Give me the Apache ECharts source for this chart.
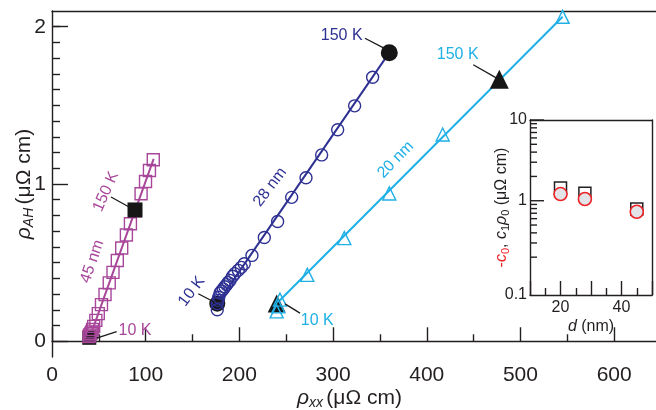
<!DOCTYPE html>
<html><head><meta charset="utf-8">
<script src="https://cdn.jsdelivr.net/npm/echarts@6/dist/echarts.min.js"></script>
<style>html,body{margin:0;padding:0;background:#fff}#c{width:656px;height:410px}</style>
</head><body><div id="c"></div>
<script>
// ---------- data (rho_xx in µΩ cm, rho_AH in µΩ cm) ----------
// 45 nm film (magenta open squares)
const f45X = [39.5, 40.2, 41.5, 42.4, 43.3, 44.5, 46.8, 49.4, 52.8, 56.6, 61.1, 65.1, 69.7, 74.4, 79.4, 83.7, 88.6, 95.1, 99.8, 104.0, 108.1];
const f45Y = [0.030, 0.040, 0.050, 0.060, 0.075, 0.095, 0.133, 0.176, 0.233, 0.297, 0.371, 0.438, 0.514, 0.593, 0.676, 0.747, 0.830, 0.938, 1.016, 1.086, 1.154];
// 28 nm film (navy open circles)
const f28X = [176.4, 176.4, 177.0, 178.0, 179.3, 181.0, 182.8, 184.5, 186.4, 188.0, 190.0, 192.8, 195.0, 198.8, 202.0, 205.2, 213.4, 226.6, 240.8, 255.8, 271.1, 287.8, 304.9, 323.0, 342.2];
const f28Y = [0.200, 0.240, 0.260, 0.280, 0.307, 0.320, 0.333, 0.347, 0.360, 0.373, 0.387, 0.413, 0.430, 0.451, 0.470, 0.493, 0.546, 0.660, 0.762, 0.915, 1.040, 1.185, 1.345, 1.497, 1.679];
// 20 nm film (cyan open triangles)
const f20X = [239.8, 241.5, 243.3, 272.5, 312.0, 360.0, 417.0, 477.4, 545.0];
const f20Y = [0.190, 0.222, 0.265, 0.422, 0.656, 0.940, 1.315, 1.666, 2.063];
// linear fits (end points)
const fit45X = [40.6, 108.5], fit45Y = [0.030, 1.160];
const fit28X = [176.4, 360.0], fit28Y = [0.239, 1.835];
const fit20X = [239.8, 545.0], fit20Y = [0.240, 2.063];
// highlighted 10 K / 150 K points
const k10X = [39.8, 176.4, 239.8], k10Y = [0.022, 0.239, 0.240];
const k150X = [88.6, 360.0, 477.4], k150Y = [0.835, 1.835, 1.666];
// inset: thickness d (nm) vs coefficients
const insetD = [20, 28, 45];
const c1rho0 = [1.44, 1.24, 0.79];
const minusC0 = [1.21, 1.05, 0.73];
// tick values
const xMajor = [0, 100, 200, 300, 400, 500, 600];
const xMinor = [50, 150, 250, 350, 450, 550];
const yMajor = [0, 1, 2];
const yMinor = [0.1,0.2,0.3,0.4,0.5,0.6,0.7,0.8,0.9,1.1,1.2,1.3,1.4,1.5,1.6,1.7,1.8,1.9,2.0];
const insetYMajor = [1, 10];
const insetYMinor = [0.2,0.3,0.4,0.5,0.6,0.7,0.8,0.9,2,3,4,5,6,7,8,9];

// ---------- style ----------
const FONT = '"Liberation Sans", Arial, Helvetica, sans-serif';
const DARK = '#231f20';
const MAG = '#a8479a', NAVY = '#2e3192', CYAN = '#1fb0e6', RED = '#ec2227';
const pairs = (xs, ys) => xs.map((x, i) => [x, ys[i]]);

const chart = echarts.init(document.getElementById('c'), null, {renderer: 'canvas', width: 656, height: 410});

const axisLine = {show: true, lineStyle: {color: DARK, width: 1.4}};
const noSplit = {show: false};

const subRich = {
  i: {fontStyle: 'italic', fontSize: 21, color: DARK, fontFamily: FONT},
  sub: {fontStyle: 'italic', fontSize: 14, color: DARK, fontFamily: FONT, padding: [9, 0, 0, 0]},
  n: {fontSize: 21, color: DARK, fontFamily: FONT}
};
const insetRich = {
  r: {fontSize: 16, color: RED, fontFamily: FONT},
  ri: {fontSize: 16, fontStyle: 'italic', color: RED, fontFamily: FONT},
  rs: {fontSize: 11, color: RED, fontFamily: FONT, padding: [7, 0, 0, 0]},
  k: {fontSize: 16, color: DARK, fontFamily: FONT},
  i: {fontSize: 16, fontStyle: 'italic', color: DARK, fontFamily: FONT},
  sub: {fontSize: 11, color: DARK, fontFamily: FONT, padding: [7, 0, 0, 0]}
};

const open = (color) => ({color: 'rgba(0,0,0,0)', borderColor: color, borderWidth: 1.4, opacity: 1});

const option = {
  animation: false,
  textStyle: {fontFamily: FONT},
  grid: [
    {left: 52, top: 11, right: -5, bottom: 53, outerBoundsMode: 'none', containLabel: false},
    {left: 530, top: 120, right: 4, bottom: 115, outerBoundsMode: 'none', containLabel: false}
  ],
  xAxis: [
    {gridIndex: 0, type: 'value', min: 0, max: 650, position: 'bottom', axisLine,
     splitLine: noSplit,
     axisTick: {inside: true, length: 14, customValues: xMajor, lineStyle: {color: DARK, width: 1.4}},
     axisLabel: {customValues: xMajor, fontSize: 21, color: DARK, margin: 8},
     name: '{i|ρ}{sub|xx} {n|(μΩ cm)}', nameLocation: 'middle', nameGap: 30, nameMoveOverlap: false,
     nameTextStyle: {rich: subRich, padding: [0, 14, 0, 0]}},
    {gridIndex: 0, type: 'value', min: 0, max: 650, position: 'bottom',
     axisLine: {show: false}, splitLine: noSplit,
     axisTick: {inside: true, length: 7, customValues: xMinor, lineStyle: {color: DARK, width: 1.4}},
     axisLabel: {show: false}},
    {gridIndex: 0, type: 'value', min: 0, max: 650, position: 'top', axisLine,
     axisTick: {show: false}, axisLabel: {show: false}, splitLine: noSplit},
    {gridIndex: 1, type: 'value', min: 10, max: 50, interval: 10, position: 'bottom', axisLine,
     splitLine: noSplit,
     axisTick: {inside: true, length: 14, lineStyle: {color: DARK, width: 1.4}},
     minorTick: {show: true, splitNumber: 2, length: 7, lineStyle: {color: DARK, width: 1.4}},
     axisLabel: {fontSize: 16, color: DARK, margin: 5, formatter: v => (v === 20 || v === 40) ? String(v) : ''},
     name: '{i|d}{k| (nm)}', nameLocation: 'middle', nameGap: 24, nameMoveOverlap: false,
     nameTextStyle: {rich: insetRich}},
    {gridIndex: 1, type: 'value', min: 10, max: 50, position: 'top', axisLine,
     axisTick: {show: false}, axisLabel: {show: false}, splitLine: noSplit}
  ],
  yAxis: [
    {gridIndex: 0, type: 'value', min: -0.1, max: 2.1, position: 'left', axisLine,
     splitLine: noSplit,
     axisTick: {inside: true, length: 16, customValues: yMajor, lineStyle: {color: DARK, width: 1.4}},
     axisLabel: {customValues: yMajor, fontSize: 21, color: DARK, margin: 6},
     name: '{i|ρ}{sub|AH} {n|(μΩ cm)}', nameLocation: 'middle', nameRotate: 90, nameGap: 16, nameMoveOverlap: false,
     nameTextStyle: {rich: subRich}},
    {gridIndex: 0, type: 'value', min: -0.1, max: 2.1, position: 'left',
     axisLine: {show: false}, splitLine: noSplit,
     axisTick: {inside: true, length: 8, customValues: yMinor, lineStyle: {color: DARK, width: 1.4}},
     axisLabel: {show: false}},
    {gridIndex: 1, type: 'log', min: 0.068, max: 10, position: 'left', axisLine,
     splitLine: noSplit, axisTick: {show: false},
     axisLabel: {fontSize: 16, color: DARK, margin: 3, showMinLabel: true,
       formatter: v => v < 0.09 ? '0.1' : (Math.abs(v - 0.1) < 1e-6 ? '' : (Math.abs(v - 1) < 1e-6 ? '1' : (Math.abs(v - 10) < 1e-6 ? '10' : '')))},
     name: '{r|-}{ri|c}{rs|0}{k|, }{i|c}{sub|1}{i|ρ}{sub|0}{k| (μΩ cm)}', nameLocation: 'middle', nameRotate: 90, nameGap: 19,
     nameMoveOverlap: false, nameTextStyle: {rich: insetRich}},
    {gridIndex: 1, type: 'log', min: 0.068, max: 10, position: 'right', axisLine,
     axisTick: {show: false}, axisLabel: {show: false}, splitLine: noSplit}
  ],
  series: [
    {type: 'line', xAxisIndex: 0, yAxisIndex: 0, data: pairs(fit45X, fit45Y), showSymbol: false, symbol: 'none',
     lineStyle: {color: MAG, width: 2}, z: 2, silent: true},
    {type: 'line', xAxisIndex: 0, yAxisIndex: 0, data: pairs(fit28X, fit28Y), showSymbol: false, symbol: 'none',
     lineStyle: {color: NAVY, width: 2}, z: 2, silent: true},
    {type: 'line', xAxisIndex: 0, yAxisIndex: 0, data: pairs(fit20X, fit20Y), showSymbol: false, symbol: 'none',
     lineStyle: {color: CYAN, width: 2}, z: 2, silent: true},
    // black 10 K markers (beneath open markers)
    {type: 'scatter', xAxisIndex: 0, yAxisIndex: 0, z: 3, silent: true,
     data: pairs(k10X, k10Y).map((p, i) => ({value: p, symbol: ['rect', 'circle', 'triangle'][i], symbolSize: [14, 16, 18][i]})),
     itemStyle: {color: '#161616', opacity: 1}},
    {type: 'scatter', xAxisIndex: 0, yAxisIndex: 0, z: 4, silent: true, symbol: 'rect', symbolSize: 12,
     data: pairs(f45X, f45Y), itemStyle: open(MAG)},
    {type: 'scatter', xAxisIndex: 0, yAxisIndex: 0, z: 4, silent: true, symbol: 'circle', symbolSize: 12,
     data: pairs(f28X, f28Y), itemStyle: open(NAVY)},
    {type: 'scatter', xAxisIndex: 0, yAxisIndex: 0, z: 4, silent: true, symbol: 'triangle', symbolSize: 13,
     data: pairs(f20X, f20Y), itemStyle: open(CYAN)},
    // black 150 K markers (on top)
    {type: 'scatter', xAxisIndex: 0, yAxisIndex: 0, z: 5, silent: true,
     data: pairs(k150X, k150Y).map((p, i) => ({value: p, symbol: ['rect', 'circle', 'triangle'][i], symbolSize: [15, 17, 19][i]})),
     itemStyle: {color: '#161616', opacity: 1}},
    // inset
    {type: 'scatter', xAxisIndex: 3, yAxisIndex: 2, z: 6, silent: true, symbol: 'rect', symbolSize: 12,
     data: pairs(insetD, c1rho0), itemStyle: {color: '#ffffff', borderColor: DARK, borderWidth: 1.5, opacity: 1}},
    {type: 'scatter', xAxisIndex: 3, yAxisIndex: 2, z: 7, silent: true, symbol: 'circle', symbolSize: 13,
     data: pairs(insetD, minusC0), itemStyle: {color: '#e3e4e8', borderColor: RED, borderWidth: 1.6, opacity: 1}},
    // inset log-axis ticks
    {type: 'custom', xAxisIndex: 3, yAxisIndex: 2, z: 8, silent: true,
     data: insetYMajor.concat(insetYMinor).map(v => [10, v]),
     renderItem: (params, api) => {
       const v = api.value(1);
       const p = api.coord([api.value(0), v]);
       const len = insetYMajor.indexOf(v) >= 0 ? 14 : 7;
       return {type: 'line', shape: {x1: p[0], y1: p[1], x2: p[0] + len, y2: p[1]},
               style: {stroke: DARK, lineWidth: 1.4}};
     }}
  ]
};
chart.setOption(option);

// ---------- annotations (anchored in data coordinates) ----------
const notes = [
  {t: '10 K', c: MAG, at: [88.6, 0.067], r: 0},
  {t: '150 K', c: MAG, at: [57.6, 0.952], r: 66},
  {t: '45 nm', c: MAG, at: [43.0, 0.507], r: 71},
  {t: '10 K', c: NAVY, at: [149.1, 0.317], r: 53},
  {t: '28 nm', c: NAVY, at: [232.7, 0.980], r: 53},
  {t: '150 K', c: NAVY, at: [309.2, 1.942], r: 0},
  {t: '150 K', c: CYAN, at: [433.0, 1.822], r: 0},
  {t: '20 nm', c: CYAN, at: [366.8, 1.154], r: 46},
  {t: '10 K', c: CYAN, at: [283.1, 0.132], r: 0}
];
const leaders = [
  [[47.7, 0.020], [69.0, 0.062]],
  [[63.0, 0.917], [86.1, 0.841]],
  [[156.1, 0.302], [172.1, 0.253]],
  [[334.0, 1.927], [354.3, 1.864]],
  [[449.6, 1.758], [474.6, 1.673]],
  [[248.7, 0.238], [264.7, 0.179]]
];
const toPx = (p) => chart.convertToPixel({xAxisIndex: 0, yAxisIndex: 0}, p);
const graphics = [];
leaders.forEach(([a, b]) => {
  const pa = toPx(a), pb = toPx(b);
  graphics.push({type: 'line', z: 10, silent: true,
    shape: {x1: pa[0], y1: pa[1], x2: pb[0], y2: pb[1]},
    style: {stroke: '#1a1a1a', lineWidth: 1.3}});
});
notes.forEach(n => {
  const p = toPx(n.at);
  graphics.push({type: 'text', z: 10, silent: true, x: p[0], y: p[1], rotation: n.r * Math.PI / 180,
    style: {text: n.t, fill: n.c, font: '16px ' + FONT, align: 'center', verticalAlign: 'middle',
            textAlign: 'center', textVerticalAlign: 'middle'}});
});
chart.setOption({graphic: graphics});
</script>
</body></html>
